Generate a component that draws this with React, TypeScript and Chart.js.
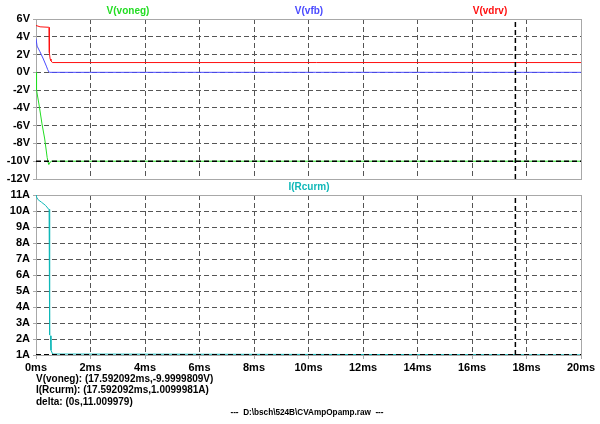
import React, { useEffect, useRef } from "react";
import { Chart, registerables } from "chart.js";
Chart.register(...registerables);

// ---- data (time in ms) ----
const vonegT = [0, 0.02, 0.12, 0.22, 0.32, 0.41, 0.45, 0.47, 0.52, 0.57, 20];
const vonegV = [0, -2.0, -3.8, -5.8, -7.5, -9.6, -10.2, -10.35, -10.1, -10.0, -10.0];

const vfbT = [0, 0.04, 0.14, 0.27, 0.38, 0.43, 0.47, 0.5, 20];
const vfbV = [3.8, 2.95, 2.35, 1.5, 0.7, 0.3, 0.05, 0, 0];

const vdrvT = [0, 0.02, 0.15, 0.46, 0.48, 0.49, 0.52, 0.55, 0.6, 20];
const vdrvV = [5.3, 5.25, 5.12, 5.07, 5.05, 2.2, 1.5, 1.3, 1.1, 1.1];

const rcurmT = [0, 0.01, 0.08, 0.2, 0.35, 0.47, 0.48, 0.49, 0.5, 0.51, 0.53, 0.55, 0.61, 20];
const rcurmI = [11, 10.9, 10.7, 10.55, 10.35, 10.1, 10.1, 3.6, 3.5, 2.25, 2.2, 1.3, 1.06, 1.01];

const cursorT = 17.592092;
const cursorV = -9.9999809;
const cursorI = 1.0099981;

const xRange = [0, 20];
const vRange = [-12, 6];
const iRange = [1, 11];

const titlesTop = ["V(voneg)", "V(vfb)", "V(vdrv)"];
const titleBottom = "I(Rcurm)";
const readouts = [
  "V(voneg): (17.592092ms,-9.9999809V)",
  "I(Rcurm): (17.592092ms,1.0099981A)",
  "delta: (0s,11.009979)",
];
const fileLabel = "---  D:\\bsch\\524B\\CVAmpOpamp.raw  ---";

const GREEN = "#22dd22";
const BLUE = "#4a4aff";
const RED = "#ff1010";
const TEAL = "#10b8b8";
const FONT = "'Liberation Sans', Arial, sans-serif";

const pts = (t: number[], v: number[]) => t.map((x, i) => ({ x, y: v[i] }));

const framePlugin = {
  id: "frame",
  beforeDatasetsDraw(chart: any) {
    const { ctx, chartArea } = chart;
    const { left, top, right, bottom } = chartArea;
    ctx.save();
    ctx.strokeStyle = "#a8a8a8";
    ctx.lineWidth = 1;
    ctx.setLineDash([]);
    ctx.strokeRect(Math.round(left) + 0.5, Math.round(top) + 0.5, Math.round(right - left), Math.round(bottom - top));
    ctx.restore();
  },
};

function makeOptions(
  yMin: number,
  yMax: number,
  yStep: number,
  unit: string,
  padTop: number,
  padBottom: number,
  showX: boolean
): any {
  return {
    animation: false,
    responsive: false,
    devicePixelRatio: 1,
    events: [],
    layout: { padding: { left: 0, right: 19, top: padTop, bottom: padBottom } },
    plugins: { legend: { display: false }, tooltip: { enabled: false }, title: { display: false } },
    elements: { point: { radius: 0 }, line: { tension: 0, borderWidth: 1 } },
    scales: {
      x: {
        type: "linear",
        min: xRange[0],
        max: xRange[1],
        afterFit: (s: any) => {
          s.height = showX ? 69 : 0;
        },
        ticks: {
          display: showX,
          stepSize: 2,
          autoSkip: false,
          padding: 2,
          maxRotation: 0,
          color: "#000",
          font: { family: FONT, size: 11, weight: "bold" },
          callback: (v: any) => `${v}ms`,
        },
        grid: {
          color: "#555",
          lineWidth: 1,
          drawTicks: showX,
          tickLength: 4,
          tickColor: "#a8a8a8",
        },
        border: { display: false, dash: [5, 3] },
      },
      y: {
        type: "linear",
        min: yMin,
        max: yMax,
        afterFit: (s: any) => {
          s.width = 36;
        },
        ticks: {
          stepSize: yStep,
          autoSkip: false,
          padding: 3,
          color: "#000",
          font: { family: FONT, size: 11, weight: "bold" },
          callback: (v: any) => `${v}${unit}`,
        },
        grid: {
          color: "#555",
          lineWidth: 1,
          drawTicks: true,
          tickLength: 3,
          tickColor: "#a8a8a8",
        },
        border: { display: false, dash: [5, 3] },
      },
    },
  };
}

export default function App() {
  const topRef = useRef<HTMLCanvasElement>(null);
  const botRef = useRef<HTMLCanvasElement>(null);

  useEffect(() => {
    const cursorStyle = { borderColor: "#000", borderWidth: 1.5, borderDash: [5, 3], pointRadius: 0 };
    const top = new Chart(topRef.current!, {
      type: "line",
      data: {
        datasets: [
          { ...cursorStyle, data: [{ x: cursorT, y: vRange[0] }, { x: cursorT, y: vRange[1] }] },
          { ...cursorStyle, data: [{ x: xRange[0], y: cursorV }, { x: xRange[1], y: cursorV }] },
          { data: pts(vonegT, vonegV), borderColor: GREEN, borderWidth: 1 },
          { data: pts(vfbT, vfbV), borderColor: BLUE, borderWidth: 1 },
          { data: pts(vdrvT, vdrvV), borderColor: RED, borderWidth: 1 },
        ],
      },
      options: makeOptions(vRange[0], vRange[1], 2, "V", 19, 245, false),
      plugins: [framePlugin],
    } as any);
    const bot = new Chart(botRef.current!, {
      type: "line",
      data: {
        datasets: [
          { ...cursorStyle, data: [{ x: cursorT, y: iRange[0] }, { x: cursorT, y: iRange[1] }] },
          { ...cursorStyle, data: [{ x: xRange[0], y: cursorI }, { x: xRange[1], y: cursorI }] },
          { data: pts(rcurmT, rcurmI), borderColor: TEAL, borderWidth: 1 },
        ],
      },
      options: makeOptions(iRange[0], iRange[1], 1, "A", 195, 0, true),
      plugins: [framePlugin],
    } as any);
    return () => {
      top.destroy();
      bot.destroy();
    };
  }, []);

  const txt: React.CSSProperties = {
    position: "absolute",
    fontFamily: FONT,
    fontWeight: "bold",
    fontSize: 10,
    lineHeight: "12px",
    whiteSpace: "pre",
  };
  const titleColors = [GREEN, BLUE, RED];
  const titleX = [128, 309, 490];

  return (
    <div style={{ position: "fixed", left: 0, top: 0, width: 600, height: 424, background: "#fff", overflow: "hidden" }}>
      <canvas ref={botRef} width={600} height={424} style={{ position: "absolute", left: 0, top: 0 }} />
      <canvas ref={topRef} width={600} height={424} style={{ position: "absolute", left: 0, top: 0 }} />
      {titlesTop.map((t, i) => (
        <div key={t} style={{ ...txt, left: titleX[i], top: 5, transform: "translateX(-50%)", color: titleColors[i] }}>
          {t}
        </div>
      ))}
      <div style={{ ...txt, left: 309, top: 181, transform: "translateX(-50%)", color: TEAL }}>{titleBottom}</div>
      {readouts.map((r, i) => (
        <div key={r} style={{ ...txt, left: 36, top: 372.5 + i * 11.5, color: "#000" }}>
          {r}
        </div>
      ))}
      <div style={{ ...txt, left: 307, top: 407, transform: "translateX(-50%)", color: "#000", fontSize: 8.2 }}>
        {fileLabel}
      </div>
    </div>
  );
}
